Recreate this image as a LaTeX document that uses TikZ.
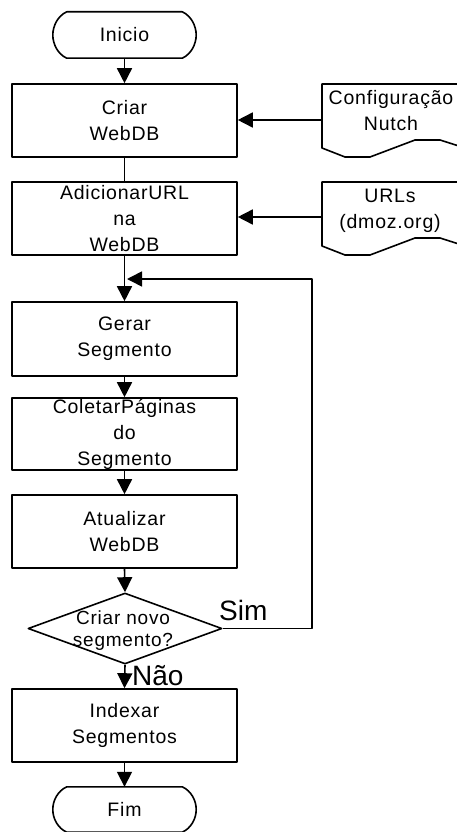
\documentclass[tikz,border=0pt]{standalone}
\usepackage{fontspec}
\setmainfont{Liberation Sans}[LetterSpace=4]
\usetikzlibrary{arrows.meta,shapes.geometric}

\tikzset{
  ln/.style={line width=1.6pt, line join=round},
  arr/.style={ln, -{Triangle[length=15pt,width=15pt]}},
  txt/.style={font=\fontsize{19.5pt}{26pt}\selectfont},
  procbox/.style={draw, ln, rectangle, minimum width=225pt, inner sep=0pt,
    align=center, txt},
  termbox/.style={rectangle, minimum width=143pt, minimum height=46pt, inner sep=0pt, txt},
  doctext/.style={align=center, inner sep=0pt, txt},
  biglabel/.style={inner sep=0pt, anchor=base west, font=\fontsize{28pt}{30pt}\selectfont\addfontfeature{LetterSpace=0}},
}

% terminator outline around a named node
\newcommand\terminal[1]{%
  \draw[ln] ([xshift=14pt]#1.north west) -- ([xshift=-14pt]#1.north east)
    .. controls +(9,4) and +(0,-9) .. (#1.east)
    .. controls +(0,9) and +(9,-4) .. ([xshift=-14pt]#1.south east)
    -- ([xshift=14pt]#1.south west)
    .. controls +(-9,-4) and +(0,9) .. (#1.west)
    .. controls +(0,-9) and +(-9,4) .. ([xshift=14pt]#1.north west) -- cycle;}

% document outline with a wavy lower edge, top-left corner at (#1,#2)
\newcommand\docshape[2]{%
  \draw[ln] (#1+148,#2) -- (#1,#2) -- (#1,#2+64) -- (#1+23,#2+73) -- (#1+48,#2+73)
    -- (#1+93,#2+56) -- (#1+118,#2+56) -- (#1+140,#2+63) -- (#1+160,#2+70);}

\begin{document}
\begin{tikzpicture}[x=1pt,y=-1pt]
\useasboundingbox (0,0) rectangle (457,832);

% main column
\node[termbox] (start) at (124.5,35) {Inicio};
\terminal{start}
\node[procbox, minimum height=73pt] (criar) at (124.5,120.5) {Criar\\WebDB};
\node[procbox, minimum height=73pt] (addurl) at (124.5,218.5) {AdicionarURL\\na\\WebDB};
\node[procbox, minimum height=74pt] (gerar) at (124.5,339) {Gerar\\Segmento};
\node[procbox, minimum height=72pt] (coleta) at (124.5,434) {ColetarPáginas\\do\\Segmento};
\node[procbox, minimum height=73pt] (atual) at (124.5,531.5) {Atualizar\\WebDB};
\node[draw, ln, diamond, minimum width=194pt, minimum height=71pt, inner sep=0pt] (dec) at (125,628.5) {};
\node[doctext, font=\fontsize{19pt}{22pt}\selectfont] (dectext) at (123,631) {Criar novo\\segmento?};
\node[procbox, minimum height=73pt] (index) at (124.5,725.5) {Indexar\\Segmentos};
\node[termbox, minimum height=45pt] (fim) at (124.5,809.5) {Fim};
\terminal{fim}

% input documents on the right
\begin{scope}
  \clip (0,0) rectangle (457,832);
  \docshape{322}{84}
  \docshape{322}{182}
\end{scope}
\node[doctext] (cfg) at (391,111) {Configuração\\Nutch};
\node[doctext] (urls) at (390,211) {URLs\\(dmoz.org)};
\coordinate (cfgL) at (322,120);
\coordinate (urlsL) at (322,217);

% connectors
\draw[arr] (start.south) -- (criar.north);
\draw[ln] (criar.south) -- (addurl.north);
\draw[arr] (addurl.south) -- (gerar.north);
\draw[arr] (gerar.south) -- (coleta.north);
\draw[arr] (coleta.south) -- (atual.north);
\draw[arr] (atual.south) -- (dec.north);
\draw[arr] (dec.south) -- (index.north);
\draw[arr] (index.south) -- (fim.north);
\draw[arr] (cfgL) -- (cfgL -| criar.east);
\draw[arr] (urlsL) -- (urlsL -| addurl.east);

% loop back for a new segment
\coordinate (loopR) at (312,279);
\coordinate (loopJ) at (127,279);
\draw[arr] (dec.east) -| (loopR) -- (loopJ);

\node[biglabel] (sim) at (219,620) {Sim};
\node[biglabel] (nao) at (132,685) {Não};
\end{tikzpicture}
\end{document}
